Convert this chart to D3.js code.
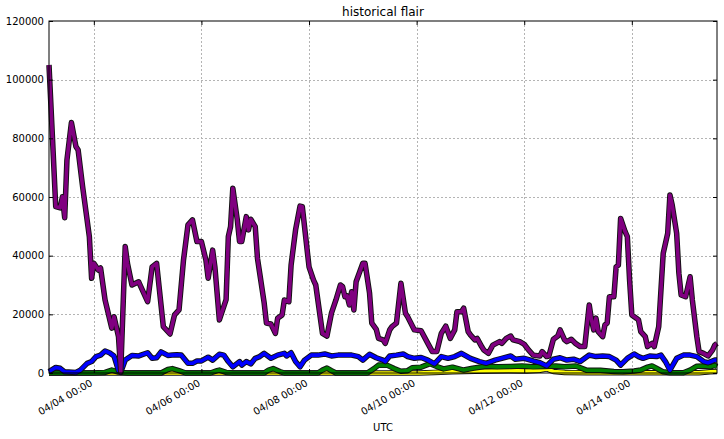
<!DOCTYPE html>
<html>
<head>
<meta charset="utf-8">
<script src="https://cdn.jsdelivr.net/npm/d3@7"></script>
<style>
  body { margin: 0; background: #fff; }
  svg, svg text { font-family: "DejaVu Sans", sans-serif; }
</style>
</head>
<body>
<div id="chart"></div>
<script>
// series as [hours since start, value]
var START = Date.UTC(2016, 3, 3, 4);
var END_HOUR = 298;

var purple = [
  [0,105000],[3,56700],[5,56300],[6,60100],[7,52900],[8,72600],[10,85400],[12,77200],[13,76000],
  [15,63500],[18,46500],[19,32300],[20,37400],[22,35100],[23,35800],[25,24900],[28,15300],[29,19200],
  [31,12400],[32,400],[34,43100],[35,37400],[37,30000],[40,31100],[41,29400],[44,24300],[46,36200],
  [48,37400],[51,15800],[54,13300],[56,19800],[58,21500],[60,38500],[62,50500],[64,52200],[66,44800],
  [68,44800],[70,38500],[71,32300],[73,41900],[74,36200],[76,18100],[79,25000],[80,46500],[81,49900],
  [82,63000],[84,52200],[85,44800],[86,44800],[88,53300],[89,48800],[90,52400],[92,49900],[93,39100],
  [94,34000],[96,23800],[97,17000],[99,16700],[101,13500],[102,18700],[104,19800],[105,24900],[107,24300],
  [108,36800],[110,48800],[112,56900],[113,56700],[116,36200],[118,31700],[119,30000],[122,13500],
  [124,12600],[126,20400],[128,24900],[130,30000],[131,29400],[132,26000],[133,26300],[134,23200],
  [135,27700],[136,21500],[137,31100],[140,37400],[141,37400],[143,27200],[144,17000],[146,14900],
  [147,11800],[149,11300],[150,10100],[152,14700],[153,15800],[155,17000],[157,30600],[159,20400],
  [160,19200],[163,14700],[166,14400],[169,10100],[171,7300],[173,7300],[175,13500],[177,16000],
  [179,11800],[181,14700],[182,20900],[184,20900],[185,22100],[187,14100],[188,13000],[190,11300],
  [191,11800],[193,9000],[194,7800],[196,6700],[198,9500],[201,10700],[202,10100],[204,11800],
  [206,12600],[207,11300],[210,10700],[212,9800],[214,7800],[216,6100],[219,5800],[220,7300],[222,5600],
  [223,5800],[225,11500],[227,12600],[228,14700],[230,11300],[231,10700],[233,11500],[235,10000],
  [237,9000],[239,9000],[241,23200],[242,18100],[243,14700],[244,18700],[245,14100],[247,12400],
  [248,16400],[249,17000],[250,26000],[252,26000],[253,36200],[254,36800],[255,52700],[257,48200],
  [258,46500],[259,31700],[260,19800],[262,18700],[263,18100],[264,14100],[266,12400],[267,9000],
  [269,10100],[270,9000],[272,15800],[274,40800],[276,47600],[277,60700],[278,57300],[280,47600],
  [281,34000],[282,26600],[284,26000],[286,32800],[287,24900],[289,12400],[290,7300],[292,6700],
  [294,5800],[296,7800],[297,9500],[298,10100]
];

var blue = [
  [0,500],[3,1900],[5,1600],[7,400],[12,200],[14,1000],[17,3300],[19,3900],[21,5600],[23,6100],
  [25,7500],[27,6900],[29,5800],[31,800],[32,200],[34,4400],[37,6000],[40,5800],[41,6100],[44,6900],
  [46,5000],[48,5200],[50,7200],[53,6000],[55,6100],[57,6200],[59,6100],[62,3300],[64,3300],[66,4100],
  [68,4100],[71,5400],[73,4400],[76,6400],[78,6100],[80,3900],[82,2100],[85,3900],[86,2700],[88,3900],
  [90,3100],[92,5000],[94,5600],[96,6700],[99,5000],[102,6100],[105,6700],[106,5800],[108,6900],
  [110,3900],[112,2100],[114,4400],[117,6100],[120,6100],[123,6500],[126,5800],[129,6100],[132,6100],
  [135,6100],[138,5600],[140,4400],[143,6400],[146,5200],[149,4400],[150,3900],[152,5800],[155,6100],
  [158,6500],[160,5600],[163,5000],[166,5300],[169,4400],[172,3100],[175,5600],[178,5000],[181,5600],
  [184,6700],[188,5000],[192,3900],[195,3300],[199,4400],[202,5000],[206,5800],[208,4700],[212,5000],
  [216,4100],[219,3500],[222,2400],[225,4700],[228,5200],[231,4400],[234,4700],[237,3900],[241,6100],
  [244,5600],[247,5800],[250,5600],[253,4400],[255,2700],[258,5000],[261,6500],[263,5600],[265,5000],
  [268,5800],[271,5600],[273,6100],[275,3900],[277,1000],[280,5000],[283,6100],[286,6100],[289,5600],
  [292,3900],[294,3500],[297,4400],[298,4400]
];

var green = [
  [0,0],[20,0],[25,200],[28,1000],[31,300],[35,0],[50,0],[53,1200],[55,1500],[58,800],[61,0],[72,0],
  [75,800],[76,1000],[79,200],[82,0],[96,0],[98,1000],[100,1500],[103,500],[105,0],[120,0],[122,1000],
  [124,1700],[126,800],[128,0],[142,0],[145,1500],[147,2700],[151,2600],[154,1500],[157,600],[160,800],
  [162,1800],[166,2000],[170,3200],[173,2200],[176,1400],[180,2000],[185,1000],[189,1600],[195,2300],
  [200,2100],[206,2200],[211,2400],[216,2100],[221,2200],[226,2400],[230,2100],[235,2400],[238,1500],
  [240,900],[246,900],[252,500],[256,400],[261,700],[264,1000],[267,2000],[269,2400],[272,1200],
  [274,400],[277,100],[283,100],[286,1000],[289,2300],[292,2400],[295,2100],[297,2600],[298,2200]
];

var yellow = [
  [0,0],[165,0],[172,200],[180,400],[190,600],[197,700],[205,800],[213,700],[219,900],[222,1400],
  [225,500],[230,200],[240,100],[270,100],[290,100],[295,400],[298,500]
];

var seriesList = [yellow, green, blue, purple];
var seriesColors = ["#ffff00", "#008000", "#0000ff", "#800080"];

var xTickDays = ["2016-04-04", "2016-04-06", "2016-04-08", "2016-04-10", "2016-04-12", "2016-04-14"];
var yTicks = [0, 20000, 40000, 60000, 80000, 100000, 120000];

var FONT = "DejaVu Sans, sans-serif";
var margin = {top: 21, right: 7, bottom: 66, left: 49},
    width = 724 - margin.left - margin.right,
    height = 439 - margin.top - margin.bottom;

var svg = d3.select("#chart").append("svg")
    .attr("width", 724).attr("height", 439)
    .attr("font-family", FONT);
var g = svg.append("g")
    .attr("transform", "translate(" + margin.left + "," + margin.top + ")");

var x = d3.scaleUtc()
    .domain([new Date(START), new Date(START + END_HOUR * 3600e3)])
    .range([0, width]);
var y = d3.scaleLinear().domain([0, 120000]).range([height, 0]);

var xTickDates = xTickDays.map(function(s) { return new Date(s + "T00:00:00Z"); });

// grid
var grid = g.append("g").attr("class", "grid");
grid.selectAll("line.gx").data(xTickDates).enter().append("line")
    .attr("x1", function(d) { return Math.round(x(d)) + 0.5; })
    .attr("x2", function(d) { return Math.round(x(d)) + 0.5; })
    .attr("y1", 0).attr("y2", height);
grid.selectAll("line.gy").data(yTicks.slice(1, -1)).enter().append("line")
    .attr("x1", 0).attr("x2", width)
    .attr("y1", function(d) { return Math.round(y(d)) + 0.5; })
    .attr("y2", function(d) { return Math.round(y(d)) + 0.5; });
grid.selectAll("line")
    .attr("stroke", "#b4b4b4").attr("stroke-width", 1).attr("stroke-dasharray", "2,2");

// lines
var line = d3.line()
    .x(function(d) { return x(new Date(START + d[0] * 3600e3)); })
    .y(function(d) { return y(d[1]); });

seriesList.forEach(function(s, i) {
    g.append("path").datum(s)
        .attr("d", line).attr("fill", "none")
        .attr("stroke", "#111").attr("stroke-width", 5.5)
        .attr("stroke-linejoin", "round");
    g.append("path").datum(s)
        .attr("d", line).attr("fill", "none")
        .attr("stroke", seriesColors[i]).attr("stroke-width", 3.6)
        .attr("stroke-linejoin", "round");
});

// axes
var fmtX = d3.utcFormat("%m/%d %H:%M");
var xAxis = g.append("g")
    .attr("transform", "translate(0," + height + ")")
    .call(d3.axisBottom(x).tickValues(xTickDates).tickSize(-4).tickPadding(0).tickFormat(fmtX));
xAxis.select(".domain").remove();
xAxis.selectAll("text")
    .attr("dy", null).attr("y", 0)
    .attr("text-anchor", "end")
    .attr("transform", "translate(-1,12) rotate(-30)");
g.append("g")
    .call(d3.axisTop(x).tickValues(xTickDates).tickSize(-4).tickFormat(""))
    .select(".domain").remove();

var yAxis = g.append("g")
    .call(d3.axisLeft(y).tickValues(yTicks).tickSize(-4).tickPadding(5).tickFormat(d3.format("d")));
yAxis.select(".domain").remove();
g.append("g").attr("transform", "translate(" + width + ",0)")
    .call(d3.axisRight(y).tickValues(yTicks).tickSize(-4).tickFormat(""))
    .select(".domain").remove();

g.selectAll(".tick line").attr("stroke", "#000");
g.selectAll(".tick text")
    .attr("font-family", FONT).attr("font-size", 10).attr("fill", "#000");
g.selectAll("g").attr("font-family", FONT);

// frame
g.append("rect")
    .attr("x", 0).attr("y", 0).attr("width", width).attr("height", height)
    .attr("fill", "none").attr("stroke", "#000").attr("stroke-width", 1);

// labels
svg.append("text")
    .attr("x", margin.left + width / 2).attr("y", 16)
    .attr("text-anchor", "middle").attr("font-size", 12)
    .text("historical flair");
svg.append("text")
    .attr("x", margin.left + width / 2).attr("y", 431)
    .attr("text-anchor", "middle").attr("font-size", 10)
    .text("UTC");
</script>
</body>
</html>
